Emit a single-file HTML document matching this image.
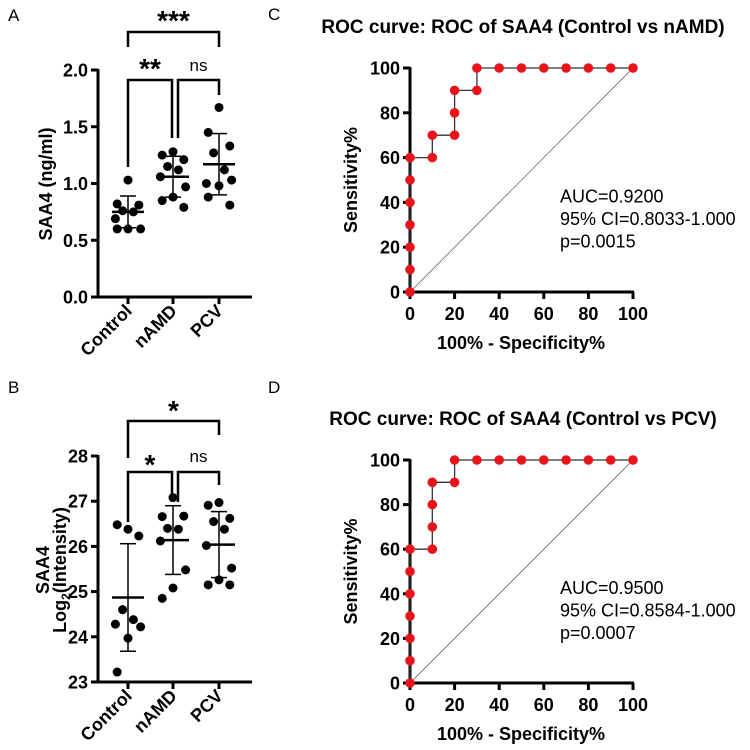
<!DOCTYPE html>
<html><head><meta charset="utf-8"><style>
body{margin:0;background:#fff}
svg{display:block;font-family:"Liberation Sans",Arial,sans-serif}
.t{font-weight:bold;font-size:18px}
</style></head><body>
<svg id="s" width="750" height="750"></svg>
<script>
const NS="http://www.w3.org/2000/svg";
const svg=document.getElementById('s');
const categories=["Control","nAMD","PCV"];
const aControl=[1.03,0.82,0.81,0.76,0.75,0.69,0.60,0.60,0.60];
const aNAMD=[1.28,1.25,1.21,1.15,1.12,1.06,0.97,0.88,0.85,0.79];
const aPCV=[1.67,1.45,1.33,1.27,1.12,1.00,1.03,0.98,0.88,0.81];
const aMean=[0.75,1.06,1.17];
const aSD=[0.14,0.18,0.27];
const aTicks=[0,0.5,1.0,1.5,2.0];
const bControl=[26.38,26.48,26.23,24.6,24.38,24.28,24.22,23.97,23.22];
const bNAMD=[27.08,26.66,26.67,26.40,26.38,26.12,25.48,25.08,24.85];
const bPCV=[26.97,26.91,26.62,26.55,26.38,26.02,25.52,25.26,25.15,25.15];
const bMean=[24.87,26.14,26.04];
const bSD=[1.19,0.76,0.73];
const bTicks=[23,24,25,26,27,28];
const rocTicks=[0,20,40,60,80,100];
const cFPR=[0,0,0,0,0,0,0,10,10,20,20,20,30,30,40,50,60,70,80,90,100];
const cTPR=[0,10,20,30,40,50,60,60,70,70,80,90,90,100,100,100,100,100,100,100,100];
const dFPR=[0,0,0,0,0,0,0,10,10,10,10,20,20,30,40,50,60,70,80,90,100];
const dTPR=[0,10,20,30,40,50,60,60,70,80,90,90,100,100,100,100,100,100,100,100,100];

function el(tag,attrs,parent,text){const e=document.createElementNS(NS,tag);for(const k in attrs)e.setAttribute(k,attrs[k]);if(text!==undefined)e.textContent=text;(parent||svg).appendChild(e);return e;}
function line(x1,y1,x2,y2,w,name,c){const l=el('line',{x1,y1,x2,y2,stroke:c||'#000','stroke-width':w});return l;}
function text(x,y,s,attrs,name){const t=el('text',Object.assign({x,y},attrs),svg,s);return t;}

function scatter(oy,y0,y1,v0,v1,ticks,groups,mean,sd,fmt){
  const ax=98, cx=[128,173,219];
  const Y=v=>y0+(v-v0)/(v1-v0)*(y1-y0);
  line(ax,y1-1,ax,y0+1.5,3,'y-axis');
  line(ax-1.5,y0,252,y0,3,'x-axis');
  ticks.forEach(t=>{line(ax-7,Y(t),ax,Y(t),3,'y-tick');text(ax-10,Y(t)+6.5,fmt(t),{'text-anchor':'end',class:'t'},'y-tick-label');});
  categories.forEach((c,i)=>{line(cx[i],y0,cx[i],y0+7,3,'x-tick');
    text(cx[i]+5,y0+15,c,{'text-anchor':'end',class:'t',transform:`rotate(-45 ${cx[i]+5} ${y0+15})`},'x-tick-label');});
  groups.forEach((g,i)=>{
    const offs=[0,-12,12,-6,6,-14,14,0,-12,12];
    g.forEach((v,j)=>{const c=el('circle',{cx:cx[i]+offs[j%offs.length]*0.9,cy:Y(v),r:4.5,fill:'#000'});});
    line(cx[i]-16,Y(mean[i]),cx[i]+16,Y(mean[i]),2.5,'mean-line');
    line(cx[i],Y(mean[i]+sd[i]),cx[i],Y(mean[i]-sd[i]),1.5,'sd-bar');
    line(cx[i]-8,Y(mean[i]+sd[i]),cx[i]+8,Y(mean[i]+sd[i]),1.5,'sd-cap');
    line(cx[i]-8,Y(mean[i]-sd[i]),cx[i]+8,Y(mean[i]-sd[i]),1.5,'sd-cap');
  });
}
function bracket(x1,x2,y,d1,d2,label,ly,fs,name){
  const p=el('path',{d:`M${x1} ${d1}V${y}H${x2}V${d2}`,fill:'none',stroke:'#000','stroke-width':2.5});
  
  text((x1+x2)/2,ly,label,{'text-anchor':'middle','font-size':fs,'font-weight':label==='ns'?'normal':'bold'},name+'-label');
}
text(8,21,'A',{'font-size':17},'panel-a-label');
scatter(0,297,70,0,2,aTicks,[aControl,aNAMD,aPCV],aMean,aSD,t=>t.toFixed(1));
bracket(128,219,32,47,47,'***',30,28,'bracket-control-pcv');
bracket(128,172,80,167,138,'**',78,28,'bracket-control-namd');
bracket(178,219,80,138,95,'ns',71,17,'bracket-namd-pcv');
text(52,184,'SAA4 (ng/ml)',{'text-anchor':'middle',class:'t',transform:'rotate(-90 52 184)','font-size':19},'y-axis-title-a');
text(8,393,'B',{'font-size':17},'panel-b-label');
scatter(370,682,456,23,28,bTicks,[bControl,bNAMD,bPCV],bMean,bSD,t=>t);
bracket(128,219,421,458,435,'*',420,28,'bracket-control-pcv-b');
bracket(128,172,472,522,502,'*',474,28,'bracket-control-namd-b');
bracket(178,219,472,502,485,'ns',462,17,'bracket-namd-pcv-b');
const yb1=el('text',{x:0,y:0,class:'t','text-anchor':'middle','font-size':18,transform:'translate(49 570) rotate(-90)'},svg,'SAA4');

const yb=el('text',{x:0,y:0,class:'t','text-anchor':'middle','font-size':18,transform:'translate(66 570) rotate(-90)'});

el('tspan',{},yb,'Log');el('tspan',{'font-size':12,dy:4},yb,'2');el('tspan',{dy:-4},yb,'(Intensity)');

function roc(y100,y0,fpr,tpr,title,stats,letter,ly){
  const x0=410,x100=633;
  const X=v=>x0+v/100*(x100-x0), Y=v=>y0+v/100*(y100-y0);
  text(268,ly,letter,{'font-size':17},'panel-label');
  text(523,y100-35,title,{'text-anchor':'middle','font-weight':'bold','font-size':19},'chart-title');
  line(X(0),Y(0),X(100),Y(100),0.7,'reference-diagonal','#555');
  line(x0,y0+1.5,x0,y100-1,3,'y-axis');
  line(x0-1.5,y0,x100+1,y0,3,'x-axis');
  rocTicks.forEach(t=>{
    line(x0-7,Y(t),x0,Y(t),3,'y-tick');text(x0-10,Y(t)+6.5,t,{'text-anchor':'end',class:'t'},'y-tick-label');
    line(X(t),y0,X(t),y0+7,3,'x-tick');text(X(t),y0+28,t,{'text-anchor':'middle',class:'t'},'x-tick-label');
  });
  text(521,y0+57,'100% - Specificity%',{'text-anchor':'middle',class:'t'},'x-axis-title');
  text(357,(y0+y100)/2,'Sensitivity%',{'text-anchor':'middle',class:'t',transform:`rotate(-90 357 ${(y0+y100)/2})`},'y-axis-title');
  let d='';fpr.forEach((f,i)=>{d+=(i?'L':'M')+X(f)+' '+Y(tpr[i]);});
  const p=el('path',{d,fill:'none',stroke:'#333','stroke-width':1.3});
  fpr.forEach((f,i)=>{const c=el('circle',{cx:X(f),cy:Y(tpr[i]),r:4.8,fill:'#e8141c'});});
  stats.forEach((s,i)=>text(560,Y(40)+i*22.5,s,{'font-size':18},'stats-text'));
}
roc(68,292,cFPR,cTPR,'ROC curve: ROC of SAA4 (Control vs nAMD)',['AUC=0.9200','95% CI=0.8033-1.000','p=0.0015'],'C',20);
roc(460,683,dFPR,dTPR,'ROC curve: ROC of SAA4 (Control vs PCV)',['AUC=0.9500','95% CI=0.8584-1.000','p=0.0007'],'D',393);
</script>
</body></html>
